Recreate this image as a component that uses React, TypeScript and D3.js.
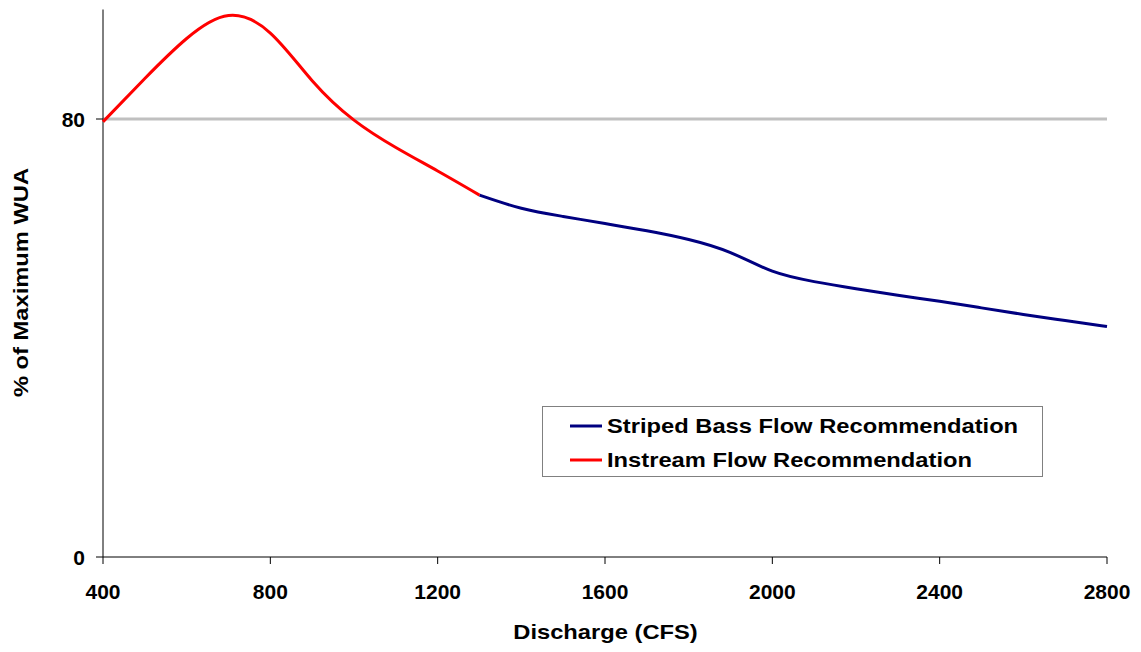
import React from "react";
import * as d3 from "d3";

const instreamX = [400, 500, 600, 700, 800, 900, 1000, 1100, 1200, 1300];
const instreamY = [79.5, 87.4, 94.7, 98.9, 95.7, 87.0, 79.8, 74.8, 70.5, 66.1];
const stripedX = [1300, 1400, 1500, 1600, 1700, 1800, 1900, 2000, 2100, 2200, 2300, 2400, 2500, 2600, 2700, 2800];
const stripedY = [66.1, 63.7, 62.2, 60.9, 59.6, 58.0, 55.6, 52.2, 50.3, 49.0, 47.8, 46.7, 45.5, 44.3, 43.2, 42.1];
const xTicks = [400, 800, 1200, 1600, 2000, 2400, 2800];
const yTicks = [0, 80];
const refLine = 80;
const legendLabels = ["Striped Bass Flow Recommendation", "Instream Flow Recommendation"];

export default function App() {
  const W = 1141, H = 652;
  const left = 103, right = 1107, top = 9.5, bottom = 557;
  const x = d3.scaleLinear().domain([400, 2800]).range([left, right]);
  const y = d3.scaleLinear().domain([0, 100]).range([bottom, top]);
  const line = d3
    .line<[number, number]>()
    .x((d) => x(d[0]))
    .y((d) => y(d[1]))
    .curve(d3.curveNatural);
  const red = line(instreamX.map((v, i) => [v, instreamY[i]] as [number, number])) || "";
  const blue = line(stripedX.map((v, i) => [v, stripedY[i]] as [number, number])) || "";
  const font = "Arial, 'Liberation Sans', sans-serif";
  const sx = 1.13;
  return (
    <svg width={W} height={H} style={{ position: "absolute", left: 0, top: 0 }} fontFamily={font} fontWeight="bold">
      <rect width={W} height={H} fill="#fff" />
      <line x1={left} x2={right} y1={y(refLine)} y2={y(refLine)} stroke="#c0c0c0" strokeWidth={3} />
      <line x1={left} x2={left} y1={top} y2={bottom} stroke="#000" strokeWidth={1} />
      <line x1={left} x2={right} y1={bottom} y2={bottom} stroke="#000" strokeWidth={1} />
      {xTicks.map((t) => (
        <g key={t}>
          <line x1={x(t)} x2={x(t)} y1={bottom} y2={bottom + 7} stroke="#000" />
          <text x={x(t)} y={599} textAnchor="middle" fontSize={21}>{t}</text>
        </g>
      ))}
      {yTicks.map((t) => (
        <g key={t}>
          <line x1={left - 7} x2={left} y1={y(t)} y2={y(t)} stroke="#000" />
          <text x={85} y={y(t) + 8} textAnchor="end" fontSize={21}>{t}</text>
        </g>
      ))}
      <path d={blue} fill="none" stroke="#000080" strokeWidth={3} />
      <path d={red} fill="none" stroke="#ff0000" strokeWidth={3} />
      <text transform={`translate(605.5,639) scale(${sx},1)`} textAnchor="middle" fontSize={21}>Discharge (CFS)</text>
      <text transform={`translate(28,282.5) rotate(-90) scale(${sx},1)`} textAnchor="middle" fontSize={21}>% of Maximum WUA</text>
      <rect x={542.5} y={406.5} width={500} height={70} fill="#fff" stroke="#808080" strokeWidth={1} />
      {legendLabels.map((l, i) => (
        <g key={l}>
          <line x1={570} x2={602} y1={426 + i * 34} y2={426 + i * 34} stroke={i === 0 ? "#000080" : "#ff0000"} strokeWidth={3} />
          <text transform={`translate(607,${433 + i * 34}) scale(${sx},1)`} fontSize={21}>{l}</text>
        </g>
      ))}
    </svg>
  );
}
